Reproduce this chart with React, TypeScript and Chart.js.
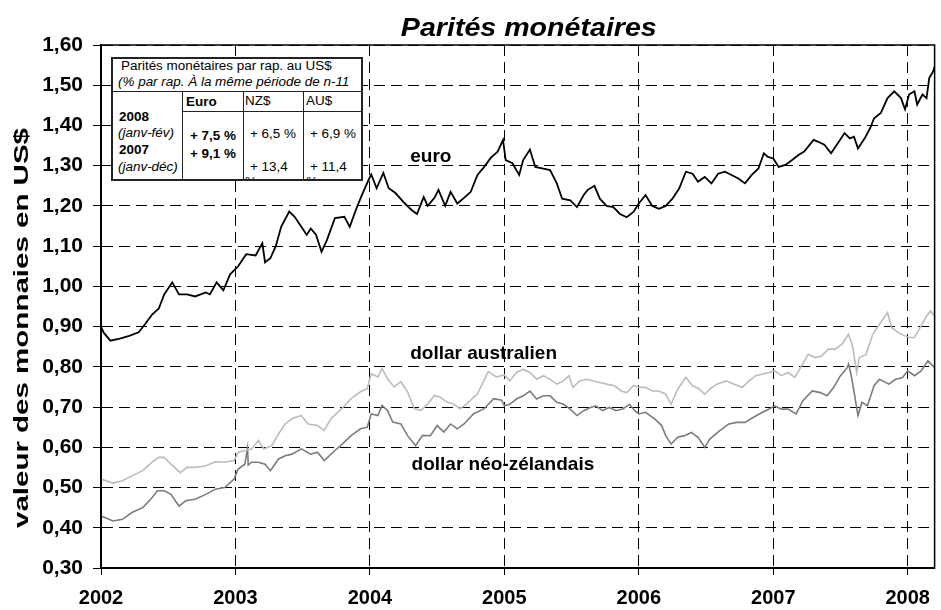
import React, { useEffect, useRef } from "react";
import { Chart, registerables } from "chart.js";

Chart.register(...registerables);

// ---------- text ----------
const TITLE = "Parités monétaires";
const Y_TITLE = "valeur des monnaies en US$";
const SERIES_NAMES = ["euro", "dollar australien", "dollar néo-zélandais"];

// ---------- axes ----------
const YEAR_TICKS = [2002, 2003, 2004, 2005, 2006, 2007, 2008];
const Y_TICKS = [0.3, 0.4, 0.5, 0.6, 0.7, 0.8, 0.9, 1.0, 1.1, 1.2, 1.3, 1.4, 1.5, 1.6];
const X_MIN = 2002;
const X_MAX = 2008.2;

// ---------- data (decimal years, value in US$) ----------
const EURO_T = [
  2002.0, 2002.02, 2002.07, 2002.14, 2002.21, 2002.28, 2002.33, 2002.38, 2002.43, 2002.47,
  2002.53, 2002.58, 2002.64, 2002.7, 2002.78, 2002.81, 2002.86, 2002.91, 2002.96, 2003.02,
  2003.08, 2003.15, 2003.2, 2003.22, 2003.26, 2003.3, 2003.34, 2003.4, 2003.44, 2003.49,
  2003.53, 2003.56, 2003.6, 2003.64, 2003.68, 2003.74, 2003.81, 2003.85, 2003.9, 2003.94,
  2003.99, 2004.01, 2004.05, 2004.1, 2004.14, 2004.19, 2004.26, 2004.31, 2004.35, 2004.4,
  2004.43, 2004.48, 2004.51, 2004.56, 2004.6, 2004.65, 2004.7, 2004.75, 2004.8, 2004.85,
  2004.9, 2004.95, 2004.99, 2005.01, 2005.06, 2005.11, 2005.14, 2005.19, 2005.23, 2005.29,
  2005.34, 2005.39, 2005.43, 2005.49, 2005.54, 2005.59, 2005.62, 2005.67, 2005.71, 2005.76,
  2005.81, 2005.86, 2005.91, 2005.96, 2006.0, 2006.05, 2006.1, 2006.15, 2006.2, 2006.25,
  2006.3, 2006.35, 2006.4, 2006.44, 2006.49, 2006.54, 2006.59, 2006.64, 2006.69, 2006.74,
  2006.79, 2006.84, 2006.89, 2006.93, 2006.96, 2007.0, 2007.04, 2007.09, 2007.14, 2007.19,
  2007.23, 2007.3, 2007.33, 2007.38, 2007.43, 2007.48, 2007.53, 2007.57, 2007.6, 2007.63,
  2007.68, 2007.72, 2007.75, 2007.8, 2007.85, 2007.9, 2007.95, 2007.98, 2008.01, 2008.05,
  2008.07, 2008.11, 2008.14, 2008.16, 2008.19, 2008.2,
];
const EURO_V = [
  0.9, 0.885, 0.865, 0.87, 0.877, 0.886, 0.907, 0.93, 0.945, 0.98,
  1.01, 0.98, 0.98, 0.975, 0.985, 0.98, 1.01, 0.99, 1.03, 1.05,
  1.08, 1.077, 1.107, 1.06, 1.07, 1.1, 1.148, 1.186, 1.173, 1.148,
  1.128, 1.144, 1.128, 1.086, 1.115, 1.17, 1.173, 1.148, 1.194, 1.227,
  1.265, 1.278, 1.244, 1.282, 1.244, 1.232, 1.206, 1.19, 1.18, 1.222,
  1.2, 1.22, 1.24, 1.2, 1.235, 1.206, 1.22, 1.235, 1.277, 1.297,
  1.32, 1.335, 1.364, 1.314, 1.306, 1.277, 1.314, 1.34, 1.297, 1.293,
  1.289, 1.256, 1.218, 1.214, 1.197, 1.227, 1.24, 1.25, 1.218, 1.2,
  1.197, 1.18, 1.172, 1.185, 1.206, 1.227, 1.2, 1.193, 1.2, 1.218,
  1.243, 1.285, 1.28, 1.26, 1.272, 1.256, 1.28, 1.285, 1.277, 1.268,
  1.256, 1.277, 1.293, 1.331, 1.322, 1.318, 1.297, 1.302, 1.314, 1.327,
  1.335, 1.364, 1.36, 1.352, 1.331, 1.356, 1.381, 1.368, 1.372, 1.343,
  1.368, 1.393, 1.418, 1.431, 1.468, 1.485, 1.468, 1.44, 1.477, 1.485,
  1.452, 1.477, 1.468, 1.518, 1.535, 1.547,
];

const AUD_T = [
  2002.0, 2002.09, 2002.16, 2002.23, 2002.31, 2002.38, 2002.43, 2002.47, 2002.52, 2002.59,
  2002.64, 2002.7, 2002.78, 2002.85, 2002.92, 2002.99, 2003.02, 2003.07, 2003.12, 2003.17,
  2003.21, 2003.27, 2003.32, 2003.37, 2003.42, 2003.49, 2003.54, 2003.61, 2003.66, 2003.71,
  2003.79, 2003.86, 2003.93, 2003.98, 2004.01, 2004.06, 2004.09, 2004.13, 2004.18, 2004.23,
  2004.28, 2004.33, 2004.38, 2004.43, 2004.48, 2004.52, 2004.57, 2004.62, 2004.67, 2004.72,
  2004.8, 2004.88, 2004.94, 2005.0, 2005.04, 2005.09, 2005.14, 2005.19, 2005.24, 2005.29,
  2005.34, 2005.39, 2005.44, 2005.48, 2005.51, 2005.56, 2005.61, 2005.66, 2005.71, 2005.76,
  2005.82, 2005.87, 2005.91, 2005.96, 2006.01, 2006.05, 2006.1, 2006.15, 2006.2, 2006.24,
  2006.29, 2006.35, 2006.4, 2006.45, 2006.49, 2006.53, 2006.58, 2006.65, 2006.71, 2006.77,
  2006.82, 2006.87, 2006.92, 2006.97, 2007.01, 2007.06, 2007.11, 2007.16, 2007.21, 2007.26,
  2007.31, 2007.36, 2007.41, 2007.46, 2007.51, 2007.56, 2007.59, 2007.62, 2007.64, 2007.69,
  2007.74, 2007.79, 2007.85, 2007.88, 2007.93, 2007.98, 2008.01, 2008.05, 2008.1, 2008.14,
  2008.17, 2008.2,
];
const AUD_V = [
  0.521, 0.511, 0.517, 0.529, 0.542, 0.563, 0.575, 0.575, 0.558, 0.537,
  0.55, 0.55, 0.554, 0.564, 0.563, 0.567, 0.587, 0.592, 0.596, 0.617,
  0.596, 0.604, 0.633, 0.658, 0.671, 0.679, 0.658, 0.654, 0.642, 0.671,
  0.696, 0.721, 0.738, 0.746, 0.783, 0.775, 0.796, 0.771, 0.75, 0.763,
  0.738, 0.696, 0.692, 0.708, 0.729, 0.725, 0.713, 0.708, 0.696, 0.708,
  0.733, 0.788, 0.775, 0.78, 0.765, 0.786, 0.794, 0.786, 0.769, 0.778,
  0.769, 0.757, 0.765, 0.778, 0.749, 0.765, 0.769, 0.765, 0.761, 0.757,
  0.753, 0.74, 0.736, 0.753, 0.749, 0.749, 0.74, 0.74, 0.732, 0.707,
  0.745, 0.774, 0.753, 0.745, 0.732, 0.745, 0.757, 0.765, 0.757, 0.749,
  0.765, 0.778, 0.782, 0.786, 0.79, 0.778, 0.786, 0.774, 0.802, 0.831,
  0.823, 0.827, 0.844, 0.844, 0.856, 0.881, 0.852, 0.786, 0.823, 0.831,
  0.881, 0.906, 0.935, 0.898, 0.885, 0.877, 0.873, 0.873, 0.902, 0.926,
  0.939, 0.926,
];

const NZD_T = [
  2002.0, 2002.09, 2002.16, 2002.23, 2002.31, 2002.37, 2002.42, 2002.47, 2002.52, 2002.58,
  2002.63, 2002.7, 2002.78, 2002.85, 2002.92, 2002.99, 2003.02, 2003.07, 2003.09, 2003.095,
  2003.12, 2003.17, 2003.22, 2003.26, 2003.32, 2003.37, 2003.42, 2003.49, 2003.56, 2003.61,
  2003.66, 2003.74, 2003.81, 2003.86, 2003.93, 2003.98, 2004.01, 2004.06, 2004.09, 2004.13,
  2004.17, 2004.23, 2004.28, 2004.34, 2004.39, 2004.45, 2004.5, 2004.55, 2004.6, 2004.65,
  2004.7, 2004.77, 2004.85, 2004.92, 2004.98, 2005.0, 2005.04, 2005.09, 2005.14, 2005.19,
  2005.24, 2005.29, 2005.34, 2005.39, 2005.44, 2005.49, 2005.54, 2005.59, 2005.64, 2005.68,
  2005.73, 2005.78, 2005.83, 2005.88, 2005.93, 2005.97, 2006.0, 2006.05, 2006.12, 2006.17,
  2006.2, 2006.24, 2006.29, 2006.34, 2006.39, 2006.44, 2006.49, 2006.53, 2006.6, 2006.67,
  2006.73, 2006.79, 2006.85, 2006.92, 2006.97, 2007.01, 2007.06, 2007.11, 2007.17, 2007.22,
  2007.29, 2007.35, 2007.4, 2007.45, 2007.5, 2007.55, 2007.56, 2007.58, 2007.61, 2007.63,
  2007.66, 2007.7, 2007.75, 2007.79, 2007.86, 2007.91, 2007.96, 2008.0, 2008.05, 2008.1,
  2008.15, 2008.2,
];
const NZD_V = [
  0.429, 0.417, 0.421, 0.438, 0.45, 0.471, 0.492, 0.492, 0.483, 0.454,
  0.467, 0.471, 0.483, 0.496, 0.5, 0.521, 0.546, 0.558, 0.598, 0.556,
  0.563, 0.563, 0.558, 0.542, 0.571, 0.579, 0.583, 0.596, 0.583, 0.588,
  0.567, 0.592, 0.613, 0.629, 0.646, 0.65, 0.683, 0.679, 0.704, 0.692,
  0.663, 0.658, 0.629, 0.604, 0.629, 0.629, 0.654, 0.638, 0.658, 0.646,
  0.658, 0.683, 0.696, 0.721, 0.717, 0.703, 0.707, 0.72, 0.728, 0.74,
  0.72, 0.728, 0.728, 0.712, 0.707, 0.695, 0.679, 0.691, 0.699, 0.703,
  0.691, 0.699, 0.691, 0.695, 0.707, 0.691, 0.683, 0.687, 0.67, 0.654,
  0.629, 0.608, 0.625, 0.629, 0.637, 0.625, 0.6, 0.621, 0.641, 0.658,
  0.662, 0.662, 0.674, 0.687, 0.695, 0.703, 0.695, 0.695, 0.683, 0.716,
  0.74, 0.736, 0.728, 0.749, 0.778, 0.798, 0.807, 0.778, 0.72, 0.679,
  0.712, 0.703, 0.753, 0.769, 0.757, 0.769, 0.773, 0.79, 0.778, 0.79,
  0.815, 0.798,
];

// ---------- inset table ----------
const TABLE_TITLE = "Parités monétaires par rap. au US$";
const TABLE_SUBTITLE = "(% par rap. À la même période de n-11";
const TABLE_HEAD = ["Euro", "NZ$", "AU$"];
const TABLE_YEARS = ["2008", "2007"];
const TABLE_PERIODS = ["(janv-fév)", "(janv-déc)"];
const EURO_CHG = ["+ 7,5 %", "+ 9,1 %"];
const NZD_CHG = ["+ 6,5 %", "+ 13,4", "%"];
const AUD_CHG = ["+ 6,9 %", "+ 11,4", "%"];

// label anchors (data coordinates)
const LABEL_AT = [
  { x: 2004.3, y: 1.322 },
  { x: 2004.3, y: 0.832 },
  { x: 2004.31, y: 0.556 },
];

const FONT = '"Liberation Sans", Arial, Helvetica, sans-serif';

const toPts = (t: number[], v: number[]) => t.map((x, i) => ({ x, y: v[i] }));

const decor = {
  id: "decor",
  afterDraw(chart: any) {
    const { ctx, chartArea: a, scales } = chart;
    ctx.save();
    // frame
    ctx.strokeStyle = "#000";
    ctx.lineWidth = 1.5;
    ctx.strokeRect(a.left, a.top, a.right - a.left, a.bottom - a.top);

    // title
    ctx.fillStyle = "#000";
    ctx.save();
    ctx.font = `italic bold 26px ${FONT}`;
    ctx.textAlign = "center";
    ctx.textBaseline = "alphabetic";
    ctx.translate((a.left + a.right) / 2 + 11, 36);
    ctx.scale(1.1, 1);
    ctx.fillText(TITLE, 0, 0);
    ctx.restore();

    // y title
    ctx.save();
    ctx.font = `bold 20px ${FONT}`;
    const w = ctx.measureText(Y_TITLE).width;
    ctx.translate(22, 328);
    ctx.rotate(-Math.PI / 2);
    ctx.scale(400 / w, 1);
    ctx.textAlign = "center";
    ctx.textBaseline = "middle";
    ctx.fillText(Y_TITLE, 0, 0);
    ctx.restore();

    // series labels
    ctx.font = `bold 19px ${FONT}`;
    ctx.textAlign = "left";
    ctx.textBaseline = "middle";
    SERIES_NAMES.forEach((s, i) => {
      const px = scales.x.getPixelForValue(LABEL_AT[i].x);
      const py = scales.y.getPixelForValue(LABEL_AT[i].y);
      ctx.fillText(s, px, py);
    });
    ctx.restore();
  },
};

function ChartCanvas() {
  const ref = useRef<HTMLCanvasElement | null>(null);
  useEffect(() => {
    if (!ref.current) return;
    const chart = new Chart(ref.current, {
      type: "line",
      data: {
        datasets: [
          {
            label: SERIES_NAMES[1],
            data: toPts(AUD_T, AUD_V),
            borderColor: "#bcbcbc",
            borderWidth: 1.6,
            pointRadius: 0,
            tension: 0,
          },
          {
            label: SERIES_NAMES[2],
            data: toPts(NZD_T, NZD_V),
            borderColor: "#7c7c7c",
            borderWidth: 1.6,
            pointRadius: 0,
            tension: 0,
          },
          {
            label: SERIES_NAMES[0],
            data: toPts(EURO_T, EURO_V),
            borderColor: "#000",
            borderWidth: 1.8,
            pointRadius: 0,
            tension: 0,
          },
        ],
      },
      options: {
        animation: false,
        responsive: false,
        devicePixelRatio: 1,
        layout: { padding: { top: 45, right: 1, left: 0, bottom: 0 } },
        plugins: { legend: { display: false }, tooltip: { enabled: false }, title: { display: false } },
        scales: {
          x: {
            type: "linear",
            min: X_MIN,
            max: X_MAX,
            afterBuildTicks: (s: any) => {
              s.ticks = YEAR_TICKS.map((v) => ({ value: v }));
            },
            afterFit: (s: any) => {
              s.height = 42;
            },
            ticks: {
              color: "#000",
              font: { family: FONT, size: 20, weight: "bold" },
              padding: 11,
              maxRotation: 0,
              autoSkip: false,
              callback: (v: any) => String(v),
            },
            grid: {
              color: "#000",
              lineWidth: 1,
              tickLength: 7,
              tickColor: "#000",
              tickWidth: 1,
            },
            border: { display: true, color: "#000", width: 2, dash: [11, 6] },
          },
          y: {
            type: "linear",
            min: Y_TICKS[0],
            max: Y_TICKS[Y_TICKS.length - 1],
            afterBuildTicks: (s: any) => {
              s.ticks = Y_TICKS.map((v) => ({ value: v }));
            },
            afterFit: (s: any) => {
              s.width = 101;
            },
            ticks: {
              color: "#000",
              font: { family: FONT, size: 21, weight: "bold" },
              padding: 10,
              autoSkip: false,
              callback: (v: any) => Number(v).toFixed(2).replace(".", ","),
            },
            grid: {
              color: "#000",
              lineWidth: 1,
              tickLength: 8,
              tickColor: "#000",
              tickWidth: 1,
            },
            border: { display: true, color: "#000", width: 2, dash: [11, 6] },
          },
        },
      },
      plugins: [decor],
    } as any);
    return () => chart.destroy();
  }, []);
  return <canvas ref={ref} width={941} height={610} style={{ display: "block" }} />;
}

const TX = 111;
const TY = 57;

function Cell(props: { x: number; cy: number; text: string; bold?: boolean; italic?: boolean }) {
  return (
    <div
      style={{
        position: "absolute",
        left: props.x - TX,
        top: props.cy - TY - 7,
        fontSize: 12,
        lineHeight: "14px",
        fontWeight: props.bold ? "bold" : "normal",
        fontStyle: props.italic ? "italic" : "normal",
        whiteSpace: "nowrap",
        transform: "scaleX(1.12)",
        transformOrigin: "left center",
        color: "#000",
      }}
    >
      {props.text}
    </div>
  );
}

function Line(props: { x: number; y: number; w: number; h: number }) {
  return (
    <div
      style={{
        position: "absolute",
        left: props.x - TX,
        top: props.y - TY,
        width: props.w,
        height: props.h,
        background: "#222",
      }}
    />
  );
}

function InsetTable() {
  return (
    <div
      style={{
        position: "absolute",
        left: TX,
        top: TY,
        width: 252,
        height: 124,
        background: "#fff",
        overflow: "hidden",
        fontFamily: FONT,
      }}
    >
      <Line x={111} y={91} w={252} h={1} />
      <Line x={183} y={111} w={180} h={1} />
      <Line x={182} y={91} w={1} h={90} />
      <Line x={243} y={91} w={1} h={90} />
      <Line x={303} y={91} w={1} h={90} />
      <Cell x={121} cy={66} text={TABLE_TITLE} />
      <Cell x={118} cy={82} text={TABLE_SUBTITLE} italic />
      <Cell x={186} cy={101.5} text={TABLE_HEAD[0]} bold />
      <Cell x={245} cy={100.5} text={TABLE_HEAD[1]} />
      <Cell x={306} cy={100.5} text={TABLE_HEAD[2]} />
      <Cell x={119} cy={116.5} text={TABLE_YEARS[0]} bold />
      <Cell x={118} cy={133} text={TABLE_PERIODS[0]} italic />
      <Cell x={119} cy={150} text={TABLE_YEARS[1]} bold />
      <Cell x={118} cy={166.5} text={TABLE_PERIODS[1]} italic />
      <Cell x={190} cy={136} text={EURO_CHG[0]} bold />
      <Cell x={190} cy={153.5} text={EURO_CHG[1]} bold />
      <Cell x={250} cy={134} text={NZD_CHG[0]} />
      <Cell x={250} cy={167} text={NZD_CHG[1]} />
      <Cell x={245} cy={181.5} text={NZD_CHG[2]} />
      <Cell x={310} cy={134} text={AUD_CHG[0]} />
      <Cell x={310} cy={167} text={AUD_CHG[1]} />
      <Cell x={306} cy={181.5} text={AUD_CHG[2]} />
      <div
        style={{
          position: "absolute",
          left: 0,
          top: 0,
          right: 0,
          bottom: 0,
          border: "2px solid #222",
          boxSizing: "border-box",
        }}
      />
    </div>
  );
}

export default function App() {
  return (
    <div style={{ position: "absolute", left: 0, top: 0, width: 941, height: 610, background: "#fff" }}>
      <ChartCanvas />
      <InsetTable />
    </div>
  );
}
